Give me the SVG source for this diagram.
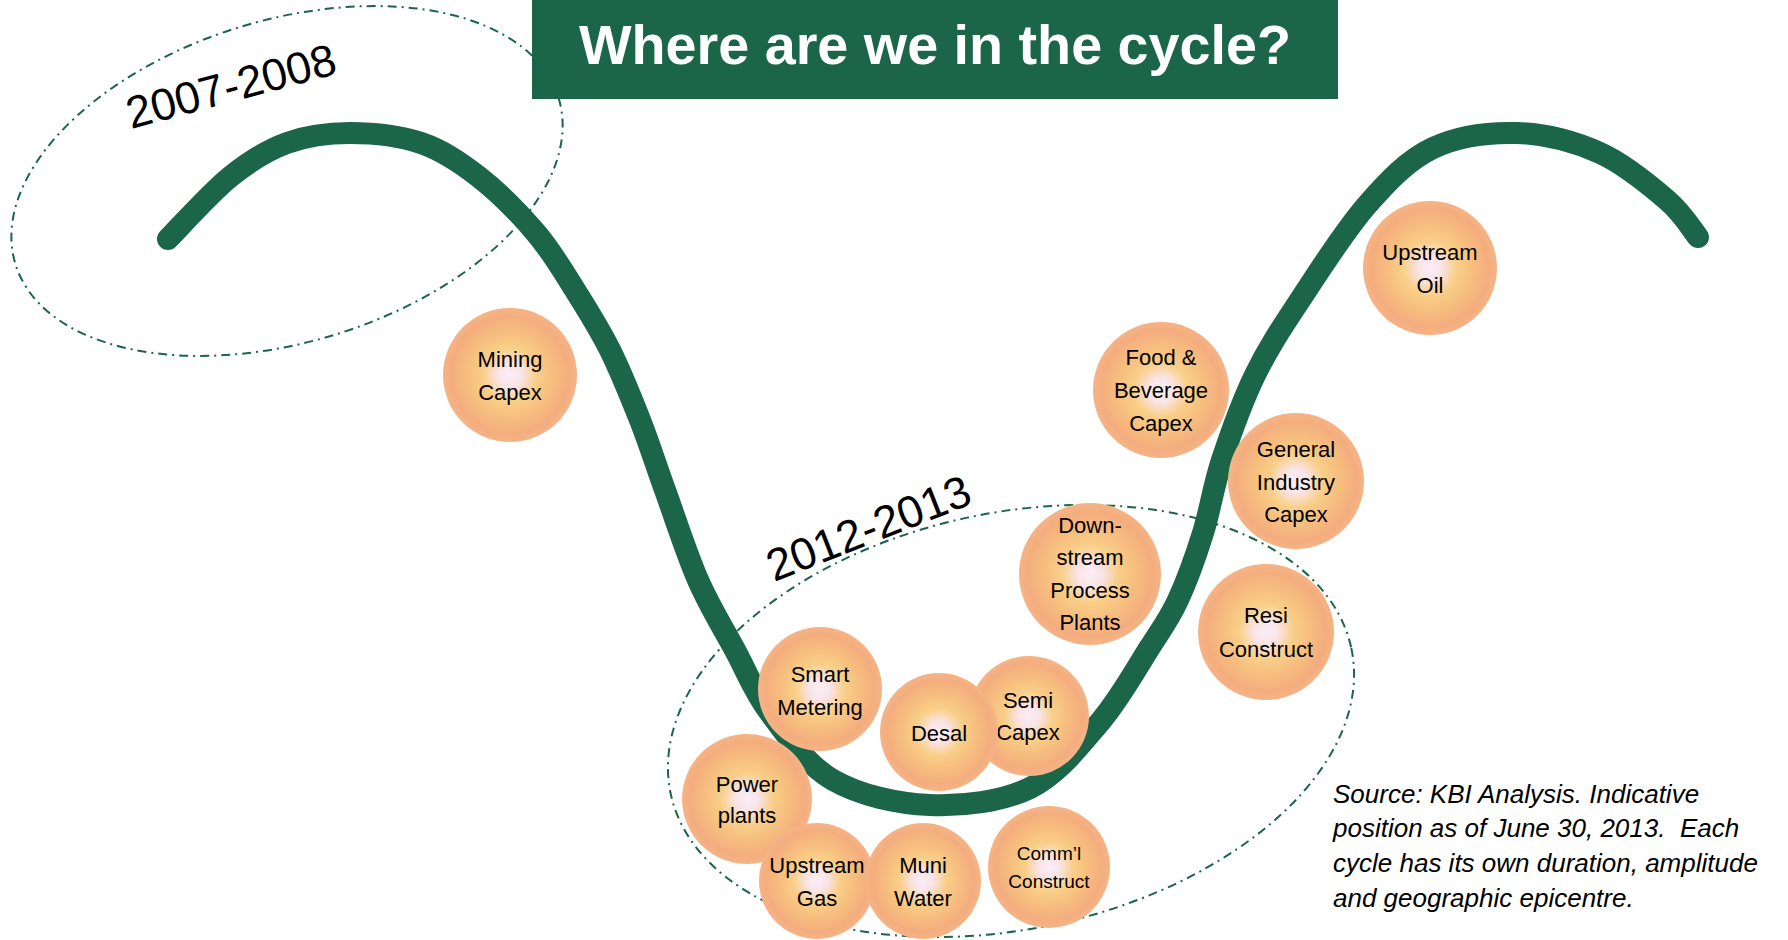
<svg xmlns="http://www.w3.org/2000/svg" width="1788" height="940" viewBox="0 0 1788 940">
  <defs>
    <radialGradient id="ball" cx="50%" cy="50%" r="50%">
      <stop offset="0%" stop-color="#fbeef7"/>
      <stop offset="18%" stop-color="#f9e4e6"/>
      <stop offset="40%" stop-color="#f9cf88"/>
      <stop offset="62%" stop-color="#f7bf7f"/>
      <stop offset="88%" stop-color="#f4ad7e"/>
      <stop offset="100%" stop-color="#f5b486"/>
    </radialGradient>
    <style>
      .era { fill: none; stroke: #1b6649; stroke-width: 2; stroke-dasharray: 9 5 2 5; }
      .cycle { fill: none; stroke: #1b6649; stroke-width: 22; stroke-linecap: round; stroke-linejoin: round; }
      .ball { fill: url(#ball); }
      .lbl { font-family: "Liberation Sans", Arial, sans-serif; font-size: 22px; fill: #000; text-anchor: middle; }
      .lbl.sm { font-size: 19px; }
      .year { font-family: "Liberation Sans", Arial, sans-serif; font-size: 45px; fill: #000; }
      .title { font-family: "Liberation Sans", Arial, sans-serif; font-size: 56px; font-weight: bold; fill: #fff; text-anchor: middle; }
      .note { font-family: "Liberation Sans", Arial, sans-serif; font-size: 26px; font-style: italic; fill: #000; }
    </style>
  </defs>

  <!-- period groupings -->
  <g id="period-2007-2008">
    <ellipse class="era" cx="287" cy="181" rx="284" ry="161" transform="rotate(-17 287 181)"/>
    <text class="year" x="131" y="129" transform="rotate(-15 131 129)">2007-2008</text>
  </g>
  <g id="period-2012-2013">
    <ellipse class="era" cx="1011" cy="721" rx="348" ry="208" transform="rotate(-12.1 1011 721)"/>
    <text class="year" x="774" y="582" transform="rotate(-21.5 774 582)">2012-2013</text>
  </g>

  <!-- the business cycle curve -->
  <g id="connectors">
    <path class="cycle" d="M168,239 C178.3,228.7 210.2,193 230,177 C249.8,161 267,150.3 287,143 C307,135.7 327.7,133 350,133 C372.3,133 399.5,135.7 421,143 C442.5,150.3 459.8,162 479,177 C498.2,192 520,214.2 536,233 C552,251.8 562.7,270.5 575,290 C587.3,309.5 599.2,328.3 610,350 C620.8,371.7 630.8,396.7 640,420 C649.2,443.3 655.3,463.3 665,490 C674.7,516.7 686.3,553.3 698,580 C709.7,606.7 723,627.8 735,650 C747,672.2 753.7,691.3 770,713 C786.3,734.7 806.3,764.7 833,780 C859.7,795.3 897.2,803.7 930,805 C962.8,806.3 1001.7,801.8 1030,788 C1058.3,774.2 1080,745.5 1100,722 C1120,698.5 1137,667.3 1150,647 C1163,626.7 1169.2,619 1178,600 C1186.8,581 1195.7,556.3 1203,533 C1210.3,509.7 1213.3,486.3 1222,460 C1230.7,433.7 1242,401.7 1255,375 C1268,348.3 1281.3,328.3 1300,300 C1318.7,271.7 1344.8,230.3 1367,205 C1389.2,179.7 1408,160 1433,148 C1458,136 1489.2,132.2 1517,133 C1544.8,133.8 1575,141.8 1600,153 C1625,164.2 1650.7,186 1667,200 C1683.3,214 1692.8,230.8 1698,237"/>
  </g>

  <!-- sectors -->
  <g id="mining-capex">
    <circle class="ball" cx="510" cy="375" r="67"/>
    <text class="lbl" x="510" y="367">Mining</text>
    <text class="lbl" x="510" y="400">Capex</text>
  </g>
  <g id="upstream-oil">
    <circle class="ball" cx="1430" cy="268" r="67"/>
    <text class="lbl" x="1430" y="260">Upstream</text>
    <text class="lbl" x="1430" y="293">Oil</text>
  </g>
  <g id="food-beverage-capex">
    <circle class="ball" cx="1161" cy="390" r="68"/>
    <text class="lbl" x="1161" y="365">Food &amp;</text>
    <text class="lbl" x="1161" y="398">Beverage</text>
    <text class="lbl" x="1161" y="431">Capex</text>
  </g>
  <g id="general-industry-capex">
    <circle class="ball" cx="1296" cy="481" r="68"/>
    <text class="lbl" x="1296" y="457">General</text>
    <text class="lbl" x="1296" y="490">Industry</text>
    <text class="lbl" x="1296" y="522">Capex</text>
  </g>
  <g id="downstream-process-plants">
    <circle class="ball" cx="1090" cy="574" r="71"/>
    <text class="lbl" x="1090" y="533">Down-</text>
    <text class="lbl" x="1090" y="565">stream</text>
    <text class="lbl" x="1090" y="598">Process</text>
    <text class="lbl" x="1090" y="630">Plants</text>
  </g>
  <g id="resi-construct">
    <circle class="ball" cx="1266" cy="632" r="68"/>
    <text class="lbl" x="1266" y="623">Resi</text>
    <text class="lbl" x="1266" y="657">Construct</text>
  </g>
  <g id="smart-metering">
    <circle class="ball" cx="820" cy="689" r="62"/>
    <text class="lbl" x="820" y="682">Smart</text>
    <text class="lbl" x="820" y="715">Metering</text>
  </g>
  <g id="semi-capex">
    <circle class="ball" cx="1029" cy="716" r="60"/>
    <text class="lbl" x="1028" y="708">Semi</text>
    <text class="lbl" x="1028" y="740">Capex</text>
  </g>
  <g id="desal">
    <circle class="ball" cx="939" cy="732" r="59"/>
    <text class="lbl" x="939" y="741">Desal</text>
  </g>
  <g id="power-plants">
    <circle class="ball" cx="747" cy="799" r="65"/>
    <text class="lbl" x="747" y="792">Power</text>
    <text class="lbl" x="747" y="823">plants</text>
  </g>
  <g id="upstream-gas">
    <circle class="ball" cx="817" cy="881" r="58"/>
    <text class="lbl" x="817" y="873">Upstream</text>
    <text class="lbl" x="817" y="906">Gas</text>
  </g>
  <g id="muni-water">
    <circle class="ball" cx="923" cy="881" r="58"/>
    <text class="lbl" x="923" y="873">Muni</text>
    <text class="lbl" x="923" y="906">Water</text>
  </g>
  <g id="comml-construct">
    <circle class="ball" cx="1049" cy="867" r="61"/>
    <text class="lbl sm" x="1049" y="860">Comm’l</text>
    <text class="lbl sm" x="1049" y="888">Construct</text>
  </g>

  <!-- heading -->
  <g id="title">
    <rect x="532" y="0" width="806" height="99" fill="#1b6649"/>
    <text class="title" x="935" y="64" textLength="712" lengthAdjust="spacingAndGlyphs">Where are we in the cycle?</text>
  </g>

  <!-- source note -->
  <g id="source-note">
    <text class="note" x="1333" y="803">Source: KBI Analysis. Indicative</text>
    <text class="note" x="1333" y="837" xml:space="preserve">position as of June 30, 2013.  Each</text>
    <text class="note" x="1333" y="872">cycle has its own duration, amplitude</text>
    <text class="note" x="1333" y="907">and geographic epicentre.</text>
  </g>
</svg>
